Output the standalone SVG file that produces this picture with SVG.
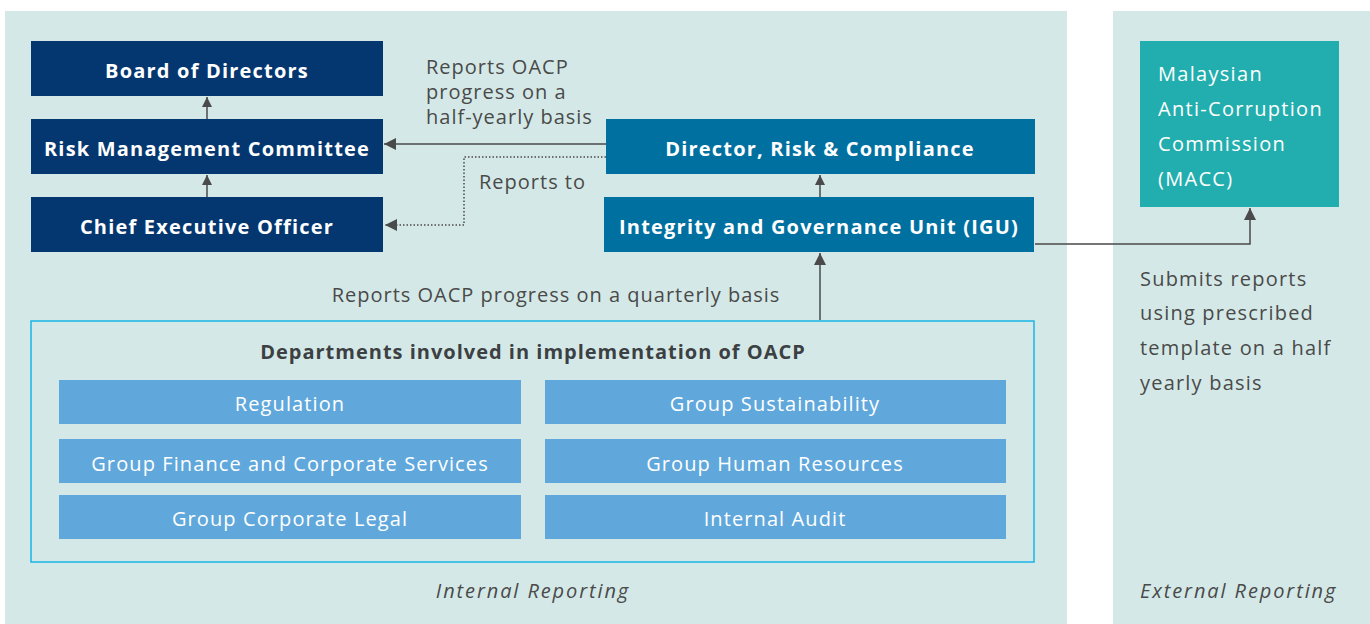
<svg xmlns="http://www.w3.org/2000/svg" width="1370" height="624" viewBox="0 0 1370 624">
<style>
.panel{fill:#d4e9e7}
.navy{fill:#04376f}
.blue{fill:#0070a0}
.dept{fill:#60a8dc}
.bt{font-family:"Open Sans","Liberation Sans",sans-serif;font-weight:700;font-size:20px;letter-spacing:1.2px;fill:#fff;text-anchor:middle}
.dt{font-family:"Open Sans","Liberation Sans",sans-serif;font-size:20px;letter-spacing:1.1px;fill:#fff;text-anchor:middle}
.lb{font-family:"Open Sans","Liberation Sans",sans-serif;font-size:20px;letter-spacing:1px;fill:#4a4a4a}
.wt{fill:#fff;letter-spacing:1.3px}
.it{font-family:"Open Sans","Liberation Sans",sans-serif;font-size:20px;letter-spacing:1.9px;fill:#4a4a4a;font-style:italic}
.ln{fill:none;stroke:#4a4a4a;stroke-width:1.5}
</style>
<defs>
<marker id="ah" viewBox="0 0 10 10" refX="10" refY="5" markerWidth="10" markerHeight="10" markerUnits="userSpaceOnUse" orient="auto">
<path d="M0,0 L10,5 L0,10 z" fill="#4a4a4a"/>
</marker>
<marker id="ah2" viewBox="0 0 12 12" refX="12" refY="6" markerWidth="12" markerHeight="12" markerUnits="userSpaceOnUse" orient="auto">
<path d="M0,0 L12,6 L0,12 z" fill="#4a4a4a"/>
</marker>
</defs>
<rect class="panel" x="5" y="11" width="1062" height="613"/>
<rect class="panel" x="1113" y="11" width="257" height="613"/>

<g id="connectors">
<line class="ln" x1="207" y1="119" x2="207" y2="97" marker-end="url(#ah)"/>
<line class="ln" x1="207" y1="197" x2="207" y2="175" marker-end="url(#ah)"/>
<line class="ln" x1="606" y1="144" x2="384" y2="144" marker-end="url(#ah2)"/>
<polyline class="ln" points="606,157 464,157 464,225 385,225" stroke-dasharray="1.5 2" stroke-width="1.3" marker-end="url(#ah2)"/>
<line class="ln" x1="820" y1="197" x2="820" y2="175" marker-end="url(#ah)"/>
<line class="ln" x1="820" y1="320" x2="820" y2="253" marker-end="url(#ah2)"/>
<polyline class="ln" points="1035,244 1250,244 1250,208" marker-end="url(#ah2)"/>
</g>

<g id="board"><rect class="navy" x="31" y="41" width="352" height="55"/><text class="bt" x="207" y="78">Board of Directors</text></g>
<g id="rmc"><rect class="navy" x="31" y="119" width="352" height="55"/><text class="bt" x="207" y="156">Risk Management Committee</text></g>
<g id="ceo"><rect class="navy" x="31" y="197" width="352" height="55"/><text class="bt" x="207" y="234">Chief Executive Officer</text></g>
<g id="director"><rect class="blue" x="606" y="119" width="429" height="55"/><text class="bt" x="820" y="156">Director, Risk &amp; Compliance</text></g>
<g id="igu"><rect class="blue" x="604" y="197" width="430" height="55"/><text class="bt" x="819" y="234">Integrity and Governance Unit (IGU)</text></g>
<g id="macc"><rect fill="#22aeae" x="1140" y="41" width="199" height="166"/>
<text class="lb wt" x="1158" y="81">Malaysian</text>
<text class="lb wt" x="1158" y="116">Anti-Corruption</text>
<text class="lb wt" x="1158" y="151">Commission</text>
<text class="lb wt" x="1158" y="186">(MACC)</text>
</g>

<g id="labels">
<text class="lb" x="426" y="74">Reports OACP</text>
<text class="lb" x="426" y="99">progress on a</text>
<text class="lb" x="426" y="124">half-yearly basis</text>
<text class="lb" x="479" y="189">Reports to</text>
<text class="lb" x="556" y="302" text-anchor="middle">Reports OACP progress on a quarterly basis</text>
<text class="lb" x="1140" y="286" style="letter-spacing:1.2px">Submits reports</text>
<text class="lb" x="1140" y="320" style="letter-spacing:1.2px">using prescribed</text>
<text class="lb" x="1140" y="355" style="letter-spacing:1.2px">template on a half</text>
<text class="lb" x="1140" y="390" style="letter-spacing:1.2px">yearly basis</text>
<text class="it" x="533" y="598" text-anchor="middle">Internal Reporting</text>
<text class="it" x="1140" y="598">External Reporting</text>
</g>

<g id="departments">
<rect x="31" y="321" width="1003" height="241" fill="none" stroke="#1ab4e8" stroke-width="1.5"/>
<text x="533" y="359" text-anchor="middle" style="font-family:'Open Sans','Liberation Sans',sans-serif;font-weight:700;font-size:20px;letter-spacing:1px;fill:#3c4043">Departments involved in implementation of OACP</text>
<g id="d1"><rect class="dept" x="59" y="380" width="462" height="44"/><text class="dt" x="290" y="411">Regulation</text></g>
<g id="d2"><rect class="dept" x="545" y="380" width="461" height="44"/><text class="dt" x="775" y="411">Group Sustainability</text></g>
<g id="d3"><rect class="dept" x="59" y="439" width="462" height="44"/><text class="dt" x="290" y="471">Group Finance and Corporate Services</text></g>
<g id="d4"><rect class="dept" x="545" y="439" width="461" height="44"/><text class="dt" x="775" y="471">Group Human Resources</text></g>
<g id="d5"><rect class="dept" x="59" y="495" width="462" height="44"/><text class="dt" x="290" y="526">Group Corporate Legal</text></g>
<g id="d6"><rect class="dept" x="545" y="495" width="461" height="44"/><text class="dt" x="775" y="526">Internal Audit</text></g>
</g>
</svg>
